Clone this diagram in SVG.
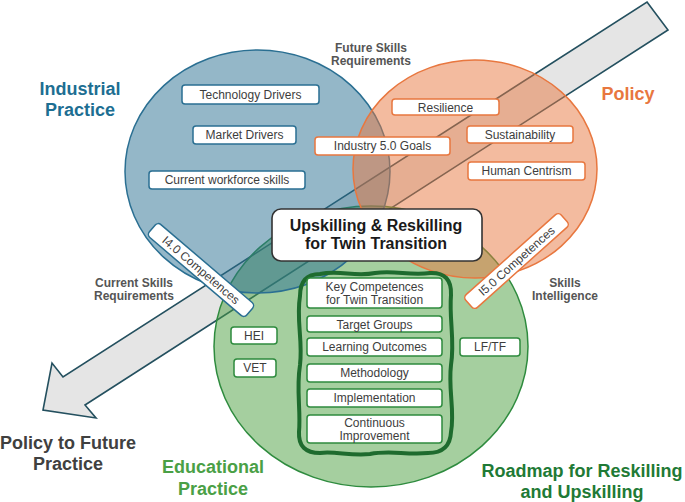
<svg xmlns="http://www.w3.org/2000/svg" width="685" height="502" viewBox="0 0 685 502">
<style>
text{font-family:"Liberation Sans",Arial,sans-serif}
.box{fill:#fff;stroke-width:1.5}
.bb{stroke:#2a6f92}
.ob{stroke:#e8773f}
.gb{stroke:#2e8b3e}
.bt{font-size:12px;fill:#3d3d3d;text-anchor:middle}
.lbl{font-size:12px;font-weight:bold;fill:#555;text-anchor:middle}
.title{font-size:18px;font-weight:bold;text-anchor:middle}
</style>
<rect width="685" height="502" fill="#fff"/>
<g id="connectors">
<polygon id="policy-arrow" points="647,2 668,30 85,405 96,418 43,410 52,363 63,377" fill="#e5e5e5" stroke="#24505f" stroke-width="1.6" stroke-linejoin="miter"/>
</g>
<g id="educational-practice">
<ellipse cx="371" cy="346.5" rx="157" ry="140.5" fill="#4ca040" fill-opacity="0.5" stroke="#2e8b3e" stroke-width="1.5"/>
</g>
<g id="industrial-practice">
<ellipse cx="257.5" cy="171.5" rx="132.5" ry="121.5" fill="#2a6f92" fill-opacity="0.5" stroke="#2a6f92" stroke-width="1.5"/>
</g>
<g id="policy">
<ellipse cx="475" cy="169" rx="122" ry="109" fill="#e8773f" fill-opacity="0.5" stroke="#e8773f" stroke-width="1.5"/>
</g>
<g id="industrial-items">
<g id="technology-drivers"><rect class="box bb" x="182" y="85" width="137" height="19" rx="3"/><text class="bt" x="250.5" y="98.5">Technology Drivers</text></g>
<g id="market-drivers"><rect class="box bb" x="193" y="126" width="103" height="18" rx="3"/><text class="bt" x="244.5" y="139">Market Drivers</text></g>
<g id="current-workforce-skills"><rect class="box bb" x="149" y="171" width="156" height="18" rx="3"/><text class="bt" x="227" y="184">Current workforce skills</text></g>
</g>
<g id="policy-items">
<g id="industry-50-goals"><rect class="box ob" x="315" y="137" width="135" height="18" rx="3"/><text class="bt" x="382.5" y="150">Industry 5.0 Goals</text></g>
<g id="resilience"><rect class="box ob" x="392" y="99" width="107" height="16" rx="3"/><text class="bt" x="445.5" y="111.5">Resilience</text></g>
<g id="sustainability"><rect class="box ob" x="467" y="126" width="106" height="17" rx="3"/><text class="bt" x="520" y="138.5">Sustainability</text></g>
<g id="human-centrism"><rect class="box ob" x="468" y="162" width="117" height="18" rx="3"/><text class="bt" x="526.5" y="175">Human Centrism</text></g>
</g>
<g id="i40-competences" transform="translate(201 270) rotate(40.5)">
<rect class="box bb" x="-64" y="-8.5" width="128" height="17" rx="4"/>
<text class="bt" x="0" y="4.2">I4.0 Competences</text>
</g>
<g id="i50-competences" transform="translate(516.5 261) rotate(-41.8)">
<rect class="box ob" x="-64" y="-8.5" width="128" height="17" rx="4"/>
<text class="bt" x="0" y="4.2">I5.0 Competences</text>
</g>
<g id="central">
<rect x="272" y="209" width="210" height="52" rx="9" fill="#fff" stroke="#333" stroke-width="1.6"/>
<text x="376" y="231" style="font-size:16px;font-weight:bold;fill:#1a1a1a;text-anchor:middle">Upskilling &amp; Reskilling</text>
<text x="376" y="249" style="font-size:16px;font-weight:bold;fill:#1a1a1a;text-anchor:middle">for Twin Transition</text>
</g>
<g id="education-items">
<g id="hei"><rect class="box gb" x="231" y="327" width="46" height="17" rx="3"/><text class="bt" x="254" y="340">HEI</text></g>
<g id="vet"><rect class="box gb" x="234" y="359" width="42" height="18" rx="3"/><text class="bt" x="255" y="372">VET</text></g>
<g id="lf-tf"><rect class="box gb" x="460" y="338" width="60" height="18" rx="3"/><text class="bt" x="490" y="351">LF/TF</text></g>
</g>
<g id="roadmap">
<path d="M 320 274 C 340 270, 355 277, 375 273 C 395 270, 410 276, 430 273 Q 452 272, 451 295 C 449 320, 455 340, 451 365 C 448 390, 455 410, 451 432 Q 450 453, 428 453 C 405 455, 390 450, 370 454 C 350 456, 335 451, 320 453 Q 298 453, 299 432 C 301 410, 296 390, 300 365 C 303 340, 296 320, 300 296 Q 300 274, 320 274 Z" fill="none" stroke="#1e6b2e" stroke-width="4"/>
<g id="key-competences"><rect class="box gb" x="307" y="278" width="135" height="30" rx="3"/><text class="bt" x="374.5" y="291">Key Competences</text><text class="bt" x="374.5" y="304">for Twin Transition</text></g>
<g id="target-groups"><rect class="box gb" x="307" y="316" width="135" height="16" rx="3"/><text class="bt" x="374.5" y="328.5">Target Groups</text></g>
<g id="learning-outcomes"><rect class="box gb" x="307" y="338" width="135" height="18" rx="3"/><text class="bt" x="374.5" y="351">Learning Outcomes</text></g>
<g id="methodology"><rect class="box gb" x="307" y="364" width="135" height="18" rx="3"/><text class="bt" x="374.5" y="377">Methodology</text></g>
<g id="implementation"><rect class="box gb" x="307" y="389" width="135" height="18" rx="3"/><text class="bt" x="374.5" y="402">Implementation</text></g>
<g id="continuous-improvement"><rect class="box gb" x="307" y="415" width="135" height="28" rx="3"/><text class="bt" x="374.5" y="426.5">Continuous</text><text class="bt" x="374.5" y="439.5">Improvement</text></g>
</g>
<g id="labels">
<text class="title" x="80" y="95" fill="#1d6e92">Industrial</text>
<text class="title" x="80" y="116" fill="#1d6e92">Practice</text>
<text class="title" x="628" y="100" fill="#e8773f">Policy</text>
<text class="title" x="68" y="449" fill="#404040">Policy to Future</text>
<text class="title" x="68" y="470" fill="#404040">Practice</text>
<text class="title" x="213" y="473" fill="#4aa046">Educational</text>
<text class="title" x="213" y="495" fill="#4aa046">Practice</text>
<text class="title" x="582" y="477" fill="#1f7a36">Roadmap for Reskilling</text>
<text class="title" x="582" y="498" fill="#1f7a36">and Upskilling</text>
<text class="lbl" x="371" y="52">Future Skills</text>
<text class="lbl" x="371" y="65">Requirements</text>
<text class="lbl" x="134" y="287">Current Skills</text>
<text class="lbl" x="134" y="300">Requirements</text>
<text class="lbl" x="565" y="287">Skills</text>
<text class="lbl" x="565" y="300">Intelligence</text>
</g>
</svg>
